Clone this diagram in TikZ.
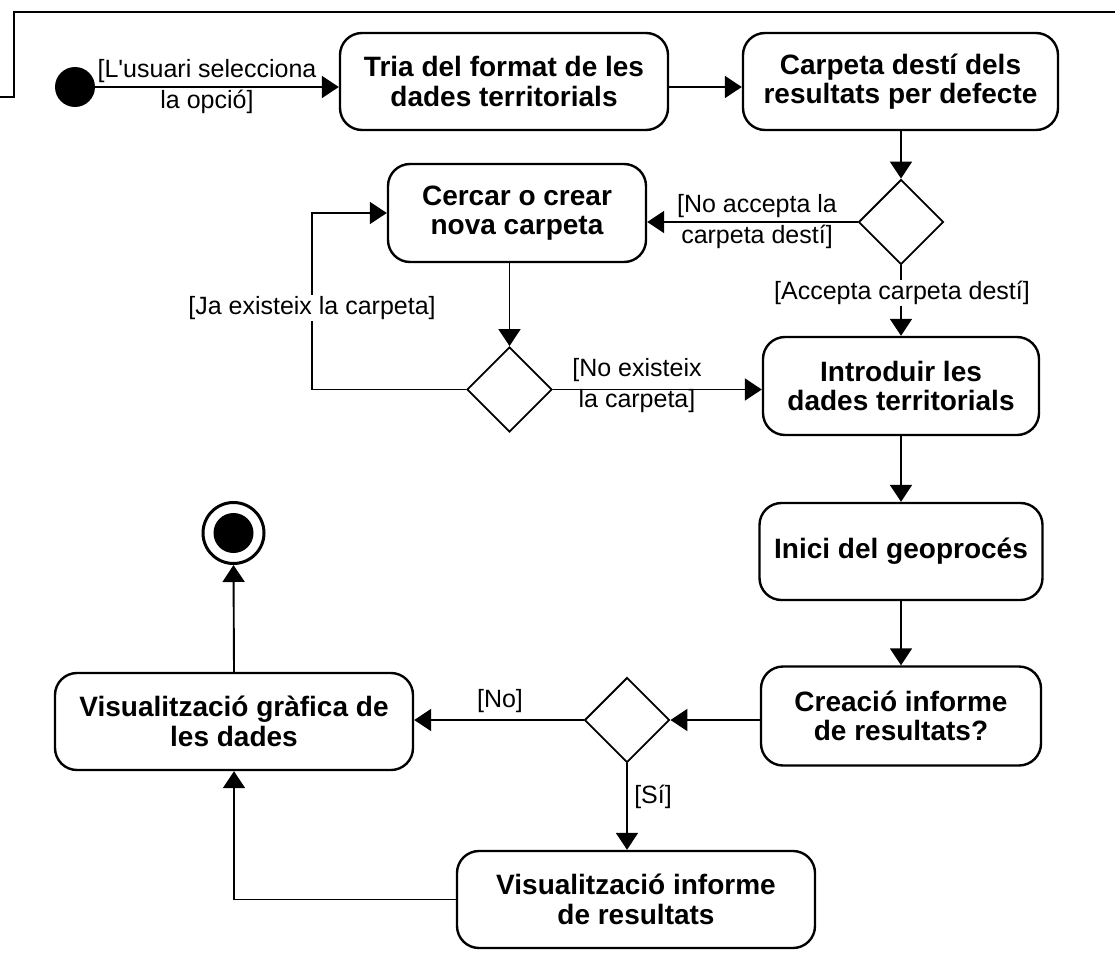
\documentclass[tikz,border=0pt]{standalone}
\usepackage{fontspec}
\setmainfont{Liberation Sans}
\usetikzlibrary{shapes.geometric,arrows.meta}
\begin{document}
\begin{tikzpicture}[x=1pt,y=-1pt,
  act/.style={draw, line width=2.4pt, rounded corners=22pt, align=center, inner sep=0pt, font=\fontsize{28}{29.5}\selectfont\bfseries},
  dec/.style={draw, diamond, line width=1.9pt, minimum width=85pt, minimum height=85pt, inner sep=0pt},
  lbl/.style={font=\fontsize{25}{31}\selectfont, align=center, inner sep=1pt},
  flow/.style={line width=1.9pt, -{Triangle[length=17pt,width=22pt]}},
]
\useasboundingbox (0,0) rectangle (1115,963);
\fill[white] (0,0) rectangle (1115,963);
\draw[line width=2pt] (0,97) -- (14,97) -- (14,12) -- (1115,12);

\node[circle, fill=black, minimum size=40pt, inner sep=0pt] (start) at (75,87) {};
\node[act, minimum width=328pt, minimum height=97pt] (tria) at (504,81.5) {Tria del format de les\\dades territorials};
\node[act, minimum width=315pt, minimum height=97pt] (carp) at (900.5,81.5) {Carpeta destí dels\\resultats per defecte};
\node[dec] (d1) at (901,222) {};
\node[act, minimum width=258pt, minimum height=98pt] (cerc) at (517,213) {Cercar o crear\\nova carpeta};
\node[dec] (d2) at (509.5,389.5) {};
\node[act, minimum width=276pt, minimum height=98pt] (intro) at (901,386) {Introduir les\\dades territorials};
\node[act, minimum width=283pt, minimum height=97pt] (inici) at (901,551.5) {Inici del geoprocés};
\node[act, minimum width=280pt, minimum height=99pt] (crea) at (901,716) {Creació informe\\de resultats?};
\node[dec] (d3) at (627,720) {};
\node[act, minimum width=358pt, minimum height=97pt] (vgraf) at (234,721.5) {Visualització gràfica de\\les dades};
\node[act, minimum width=358pt, minimum height=97pt] (vinf) at (636,899.5) {Visualització informe\\de resultats};
\node[circle, draw, line width=3pt, minimum size=61pt, inner sep=0pt] (end) at (233.5,533) {};
\node[circle, fill=black, minimum size=40pt, inner sep=0pt] (endin) at (end.center) {};

\coordinate (lt) at (312,213);

\draw[flow] (start) -- (start -| tria.west);
\node[lbl] (l1) at (207,87) {[L\textquotesingle usuari selecciona\\la opció]};
\draw[flow] (tria.east |- start) -- (carp.west |- start);
\draw[flow] (d1.north |- carp.south) -- (d1.north);
\draw[flow] (d1.west) -- (d1.west -| cerc.east);
\node[lbl] (l2) at (757,221.5) {[No accepta la\\carpeta destí]};
\draw[flow] (d1.south) -- (d1.south |- intro.north);
\node[lbl, fill=white] (l3) at (902,293) {[Accepta carpeta destí]};
\draw[flow] (d2.north |- cerc.south) -- (d2.north);
\draw[flow] (d2.east) -- (d2.east -| intro.west);
\node[lbl] (l4) at (637,386) {[No existeix\\la carpeta]};
\draw[flow] (d2.west) -- (d2.west -| lt) -- (lt) -- (lt -| cerc.west);
\node[lbl, fill=white] (l5) at (312,308) {[Ja existeix la carpeta]};
\draw[flow] (intro.south) -- (inici.north);
\draw[flow] (inici.south) -- (crea.north);
\draw[flow] (crea.west |- d3) -- (d3.east);
\draw[flow] (d3.west) -- (d3.west -| vgraf.east);
\node[lbl] (l6) at (500,701) {[No]};
\draw[flow] (d3.south) -- (d3.south |- vinf.north);
\node[lbl] (l7) at (653,797) {[Sí]};
\draw[flow] (vinf.west) -- (vinf.west -| vgraf.south) -- (vgraf.south);
\draw[flow] (vgraf.north) -- (end.south);
\end{tikzpicture}
\end{document}
